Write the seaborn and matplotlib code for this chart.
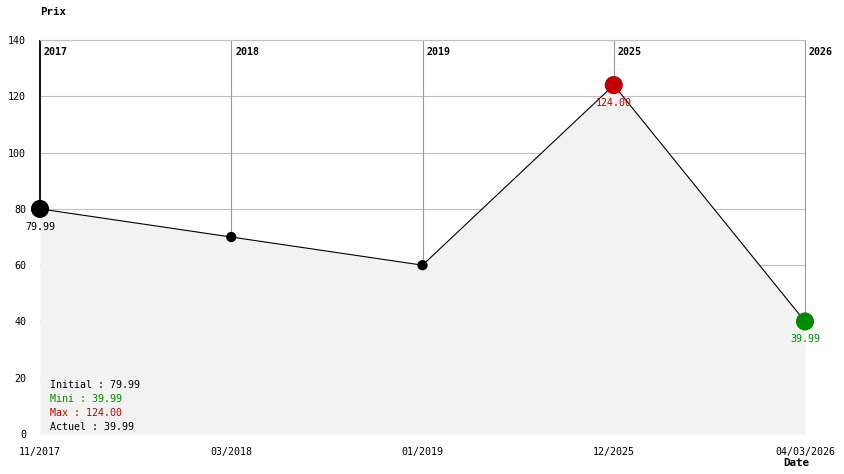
import matplotlib
matplotlib.use("Agg")
import matplotlib.pyplot as plt
import seaborn as sns
import pandas as pd

# Data
dates = ["11/2017", "03/2018", "01/2019", "12/2025", "04/03/2026"]
years = ["2017", "2018", "2019", "2025", "2026"]
prices = [79.99, 69.99, 59.99, 124.00, 39.99]
yticks = [0, 20, 40, 60, 80, 100, 120, 140]

df = pd.DataFrame({"pos": range(len(prices)), "price": prices})

sns.set_style("white")
plt.rcParams["font.family"] = ["DejaVu Sans Mono"]
plt.rcParams["text.color"] = "black"
fs = 7.2
red = "#c00000"
green = "#008a00"

fig = plt.figure(figsize=(8.44, 4.74), dpi=100)
ax = fig.add_axes([40 / 844, 40 / 474, 765 / 844, 394 / 474])

# horizontal grid behind the area
for y in yticks[1:]:
    ax.axhline(y, color="#c0c0c0", lw=0.8, zorder=0)

ax.fill_between(df["pos"], df["price"], 0, color="#f2f2f2", zorder=1, lw=0)

# vertical lines from each point up to the top (first one black)
vcols = ["black"] + ["#999999"] * (len(prices) - 1)
vlw = [1.3] + [0.8] * (len(prices) - 1)
ax.vlines(df["pos"], df["price"], yticks[-1], colors=vcols, linewidths=vlw, zorder=2, clip_on=False)

sns.lineplot(data=df, x="pos", y="price", color="black", lw=0.8, ax=ax, zorder=3)

# markers
imax = prices.index(max(prices))
imin = prices.index(min(prices))
sizes = []
colors = []
for i in range(len(prices)):
    if i == imax:
        colors.append(red); sizes.append(170)
    elif i == imin:
        colors.append(green); sizes.append(170)
    elif i == 0:
        colors.append("black"); sizes.append(170)
    else:
        colors.append("black"); sizes.append(55)
ax.scatter(df["pos"], df["price"], s=sizes, c=colors, zorder=8, lw=0, clip_on=False)

# value labels
ax.text(0, prices[0] - 4.5, f"{prices[0]:.2f}", ha="center", va="top", fontsize=fs, color="black", zorder=9)
ax.text(imax, prices[imax] - 4.5, f"{prices[imax]:.2f}", ha="center", va="top", fontsize=fs, color=red, zorder=9)
ax.text(imin, prices[imin] - 4.5, f"{prices[imin]:.2f}", ha="center", va="top", fontsize=fs, color=green, zorder=9)

# year labels at the top of each vertical line
for i, yr in enumerate(years):
    ax.text(i + 0.02, 137.5, yr, ha="left", va="top", fontsize=fs, fontweight="bold", zorder=9, clip_on=False)

# summary text block
summary = [
    (f"Initial : {prices[0]:.2f}", "black"),
    (f"Mini : {min(prices):.2f}", green),
    (f"Max : {max(prices):.2f}", red),
    (f"Actuel : {prices[-1]:.2f}", "black"),
]
for k, (txt, col) in enumerate(summary):
    ax.text(10 / 765, (474 - 40 - 385) / 394 - k * 14 / 394, txt, transform=ax.transAxes,
            ha="left", va="center", fontsize=fs, color=col, zorder=9)

ax.set_xlim(0, len(prices) - 1)
ax.set_ylim(0, 140)
ax.set_xticks(range(len(dates)))
ax.set_xticklabels(dates, fontsize=fs, color="black")
ax.set_yticks(yticks)
ax.set_yticklabels([str(v) for v in yticks], fontsize=fs, color="black")
ax.tick_params(axis="x", length=0, pad=9)
ax.tick_params(axis="y", length=0, pad=10)
ax.set_xlabel("")
ax.set_ylabel("")

for s in ["right", "bottom", "left"]:
    ax.spines[s].set_visible(False)
ax.spines["top"].set_color("#c0c0c0")
ax.spines["top"].set_linewidth(0.8)

fig.text(40 / 844, 1 - 12 / 474, "Prix", ha="left", va="center", fontsize=7.8, fontweight="bold")
fig.text(783 / 844, 1 - 463 / 474, "Date", ha="left", va="center", fontsize=7.8, fontweight="bold")

fig.savefig("out.png", dpi=100)
